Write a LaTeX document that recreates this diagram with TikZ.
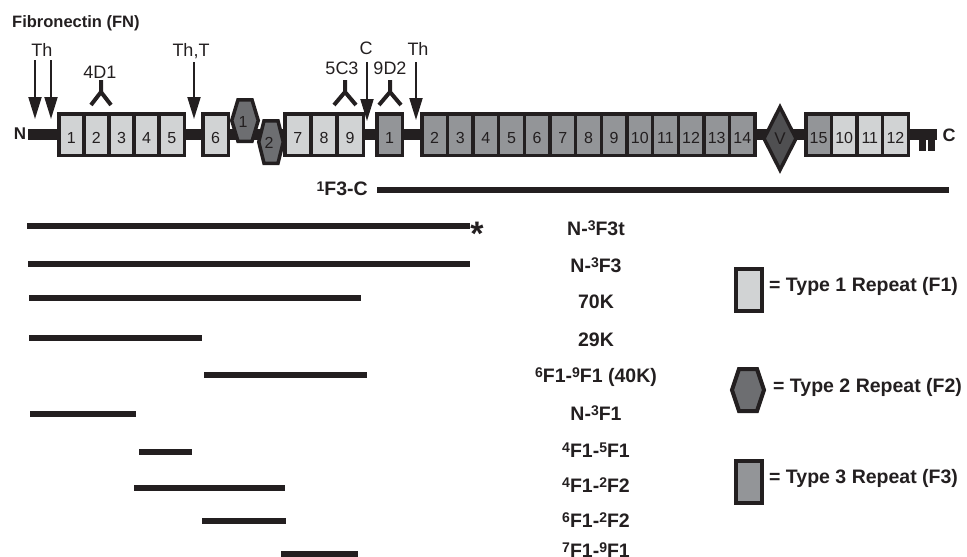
\documentclass[tikz,border=0pt]{standalone}
\usepackage{fontspec}
\setmainfont{Liberation Sans}
\usetikzlibrary{arrows.meta}
\definecolor{fone}{HTML}{D1D3D4}
\definecolor{fthree}{HTML}{939598}
\definecolor{ftwo}{HTML}{6D6E71}
\definecolor{vdark}{HTML}{4F4F51}
\definecolor{ink}{HTML}{231F20}
\newcommand\mysup[1]{\raisebox{4.5pt}{\fontsize{14}{14}\selectfont #1}}
\tikzset{
  rep/.style={draw=ink, line width=3.5pt, minimum height=41.5pt, inner sep=0pt,
    text height=17pt, text depth=0pt, font=\fontsize{16}{16}\selectfont, text=ink},
  onebox/.style={rep, fill=fone},
  threebox/.style={rep, fill=fthree},
  hexshape/.style={draw=ink, line width=3.5pt, fill=ftwo, line join=miter},
  numlab/.style={inner sep=0pt, font=\fontsize{16}{16}\selectfont, text=ink},
  toplab/.style={inner sep=0pt, font=\fontsize{18}{18}\selectfont, text=ink},
  cut/.style={draw=ink, line width=2pt, -{Triangle[width=13pt,length=22pt]}},
  antibody/.style={draw=ink, line width=4pt, line join=miter},
  backbone/.style={draw=ink, line width=11pt},
  frag/.style={draw=ink, line width=6pt},
  fraglab/.style={inner sep=0pt, font=\fontsize{19.5}{20}\bfseries\selectfont, text=ink},
  legbox/.style={draw=ink, line width=4pt, minimum width=26pt, minimum height=42pt, inner sep=0pt}
}
\begin{document}
\begin{tikzpicture}[x=1pt,y=-1pt]
\useasboundingbox (0,0) rectangle (967,557);
% title
\node[anchor=west, inner sep=0pt, font=\fontsize{16.5}{17}\bfseries\selectfont, text=ink] (title) at (12,23) {Fibronectin (FN)};
% backbone
\coordinate (nterm) at (28,134.5);
\coordinate (cterm) at (937,134.5);
\draw[backbone] (nterm) -- (cterm);
\fill[ink] (919.3,134) rectangle (926,151);
\fill[ink] (928.3,134) rectangle (935,151);
\node[inner sep=0pt, font=\fontsize{17}{17}\bfseries\selectfont, text=ink] (nlab) at (20,134) {N};
\node[inner sep=0pt, font=\fontsize{18}{18}\bfseries\selectfont, text=ink] (clab) at (949,135.5) {C};
% F1 1-5
\foreach \n [count=\i] in {1,...,5}
  \node[onebox, minimum width=25.1pt] (a\i) at ({58.75+25.1*(\i-0.5)},134.5) {\n};
\node[onebox, minimum width=25.5pt] (a6) at (215.5,134.5) {6};
% F2 hexagons
\draw[hexshape, shift={(245,120.5)}] (-13.25,0) -- (-7,-20.75) -- (7,-20.75) -- (13.25,0) -- (7,20.75) -- (-7,20.75) -- cycle;
\draw[hexshape, shift={(271,142)}] (-12.25,0) -- (-7,-21.25) -- (7,-21.25) -- (12.25,0) -- (7,21.25) -- (-7,21.25) -- cycle;
\node[numlab] (h1) at (243,122) {1};
\node[numlab] (h2) at (269,143) {2};
% F1 7-9
\foreach \n [count=\i] in {7,8,9}
  \node[onebox, minimum width=26.17pt] (b\n) at ({284.75+26.17*(\i-0.5)},134.5) {\n};
% F3 1
\node[threebox, minimum width=25.5pt] (c1) at (389.5,134.5) {1};
% F3 2-14
\foreach \n [count=\i] in {2,...,14}
  \node[threebox, minimum width=25.65pt] (c\n) at ({421.75+25.65*(\i-0.5)},134.5) {\n};
% V
\draw[draw=ink, line width=3.5pt, fill=vdark, line join=miter] (764,138.5) -- (780,107) -- (796,138.5) -- (780,170) -- cycle;
\node[inner sep=0pt, font=\fontsize{17}{17}\selectfont, text=ink!90!black] (vlab) at (780,139) {V};
% 15, 10, 11, 12
\node[threebox, minimum width=25.625pt] (c15) at ({805.75+25.625*0.5},134.5) {15};
\foreach \n [count=\i] in {10,11,12}
  \node[onebox, minimum width=25.625pt] (d\n) at ({805.75+25.625*(\i+0.5)},134.5) {\n};
% cleavage sites
\node[toplab] (th1) at (42,50) {Th};
\coordinate (t1s) at (35,60); \coordinate (t1e) at (35,119);
\coordinate (t2s) at (51,60); \coordinate (t2e) at (51,119);
\draw[cut] (t1s) -- (t1e);
\draw[cut] (t2s) -- (t2e);
\node[toplab] (tht) at (191,51) {Th,T};
\coordinate (t3s) at (194,62); \coordinate (t3e) at (194,119);
\draw[cut] (t3s) -- (t3e);
\node[toplab] (clv) at (366,48.5) {C};
\coordinate (t4s) at (367,62); \coordinate (t4e) at (367,121);
\draw[cut] (t4s) -- (t4e);
\node[toplab] (th2) at (418,48.5) {Th};
\coordinate (t5s) at (416,62); \coordinate (t5e) at (416,120);
\draw[cut] (t5s) -- (t5e);
% antibodies
\node[toplab] (ab1) at (100,72) {4D1};
\draw[antibody] (101,80) -- (101,92) (91,105) -- (101,92) -- (111,105);
\node[toplab] (ab2) at (342,68.5) {5C3};
\draw[antibody] (345,80) -- (345,92) (334,105) -- (345,92) -- (356,105);
\node[toplab] (ab3) at (390,68.5) {9D2};
\draw[antibody] (390,80) -- (390,92) (379,105) -- (390,92) -- (401,105);
% 1F3-C
\node[fraglab, anchor=east] (f0) at (368,189) {\mysup{1}F3-C};
\draw[frag] (377,190) -- (949,190);
% fragments
\draw[frag] (27,226) -- (470,226);
\node[inner sep=0pt, font=\fontsize{34}{34}\bfseries\selectfont, text=ink] (ast) at (477,234) {*};
\node[fraglab] (f1) at (596,228) {N-\mysup{3}F3t};
\draw[frag] (28,264) -- (470,264);
\node[fraglab] (f2) at (596,265) {N-\mysup{3}F3};
\draw[frag] (29,298) -- (361,298);
\node[fraglab] (f3) at (596,302) {70K};
\draw[frag] (29,338) -- (202,338);
\node[fraglab] (f4) at (596,340) {29K};
\draw[frag] (204,375) -- (367,375);
\node[fraglab] (f5) at (596,377) {\mysup{6}F1-\mysup{9}F1 (40K)};
\draw[frag] (30,414) -- (136,414);
\node[fraglab] (f6) at (596,413) {N-\mysup{3}F1};
\draw[frag] (139,452) -- (192,452);
\node[fraglab] (f7) at (596,450) {\mysup{4}F1-\mysup{5}F1};
\draw[frag] (134,488) -- (285,488);
\node[fraglab] (f8) at (596,485) {\mysup{4}F1-\mysup{2}F2};
\draw[frag] (202,521) -- (286,521);
\node[fraglab] (f9) at (596,520) {\mysup{6}F1-\mysup{2}F2};
\draw[frag] (281,554) -- (358,554);
\node[fraglab] (f10) at (596,550) {\mysup{7}F1-\mysup{9}F1};
% legend
\node[legbox, fill=fone] (l1) at (749,290) {};
\node[fraglab, anchor=west] (l1t) at (769,286) {= Type 1 Repeat (F1)};
\draw[hexshape, line width=4pt, shift={(748,390)}] (-16,0) -- (-9,-21) -- (9,-21) -- (16,0) -- (9,21) -- (-9,21) -- cycle;
\node[fraglab, anchor=west] (l2t) at (773,387) {= Type 2 Repeat (F2)};
\node[legbox, fill=fthree] (l3) at (748.5,481.5) {};
\node[fraglab, anchor=west] (l3t) at (769,478) {= Type 3 Repeat (F3)};
\end{tikzpicture}
\end{document}
